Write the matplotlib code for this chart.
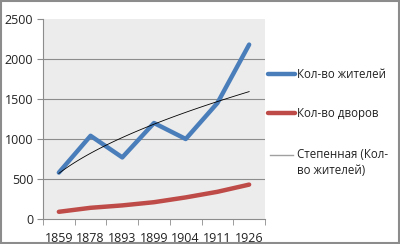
import numpy as np
import matplotlib
matplotlib.use("Agg")
import matplotlib.pyplot as plt
from matplotlib.lines import Line2D

years = ["1859", "1878", "1893", "1899", "1904", "1911", "1926"]
residents = [580, 1040, 770, 1200, 1000, 1450, 2180]
households = [90, 140, 170, 210, 270, 340, 430]
yticks = [0, 500, 1000, 1500, 2000, 2500]

plt.rcParams['font.family'] = ['Open Sans', 'DejaVu Sans']

fig = plt.figure(figsize=(4, 2.44), dpi=100)
fig.patch.set_facecolor('white')
ax = fig.add_axes([43/400, 1-219/244, 222/400, 200/244])
ax.set_facecolor('#ececec')

x = np.arange(len(years))
ax.plot(x, residents, color='#4a7ebb', lw=3.2, solid_capstyle='round', zorder=3)
ax.plot(x, households, color='#be4b48', lw=3.2, solid_capstyle='round', zorder=3)

# power trendline fit on residents
lx = np.log(x + 1)
ly = np.log(residents)
b, a = np.polyfit(lx, ly, 1)
xs = np.linspace(1, len(years), 100)
ax.plot(xs - 1, np.exp(a) * xs ** b, color='black', lw=0.6, zorder=4)

ax.set_xlim(-0.5, len(years) - 0.5)
ax.set_ylim(0, 2500)
ax.set_yticks(yticks)
ax.set_yticklabels([str(v) for v in yticks])
for v in yticks[1:-1]:
    ax.axhline(v, color='#8c8c8c', lw=0.8, zorder=1)

ax.set_xticks(x)
ax.set_xticklabels(years)
ax.set_xticks(np.arange(-0.5, len(years)), minor=True)
ax.tick_params(axis='x', which='major', length=0, pad=9, labelsize=9, colors='#222222')
ax.tick_params(axis='x', which='minor', length=4, color='#8c8c8c', direction='out')
ax.tick_params(axis='y', length=4, labelsize=9, pad=3, colors='#8c8c8c', labelcolor='#222222')

for s in ['top', 'right']:
    ax.spines[s].set_visible(False)
ax.spines['left'].set_color('#8c8c8c')
ax.spines['bottom'].set_color('#8c8c8c')

# legend
fs = 8.3
fig.add_artist(Line2D([268/400, 295/400], [1-74/244, 1-74/244], color='#4a7ebb', lw=3.2, solid_capstyle='round'))
fig.text(297/400, 1-74/244, "Кол-во жителей", fontsize=fs, va='center', color='#222222')
fig.add_artist(Line2D([268/400, 295/400], [1-113/244, 1-113/244], color='#be4b48', lw=3.2, solid_capstyle='round'))
fig.text(297/400, 1-113/244, "Кол-во дворов", fontsize=fs, va='center', color='#222222')
fig.add_artist(Line2D([270/400, 293/400], [1-155/244, 1-155/244], color='#a0a0a0', lw=1.0))
fig.text(297/400, 1-155/244, "Степенная (Кол-", fontsize=fs, va='center', color='#222222')
fig.text(297/400, 1-170/244, "во жителей)", fontsize=fs, va='center', color='#222222')

# outer border
fig.add_artist(plt.Rectangle((0.002, 0.004), 0.996, 0.992, transform=fig.transFigure,
                             fill=False, edgecolor='#8c8c8c', lw=1.5))

fig.savefig("out.png", dpi=100)
